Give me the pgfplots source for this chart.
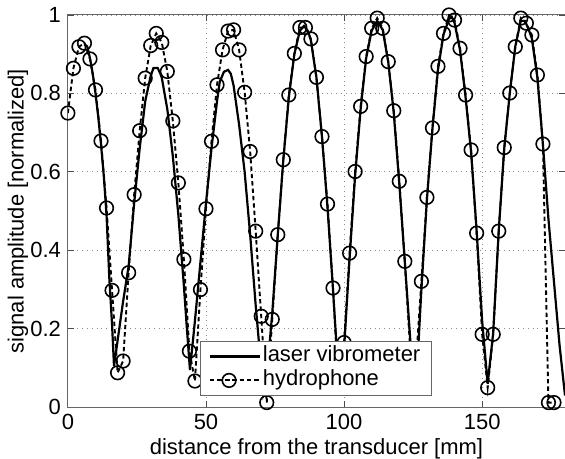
\documentclass[border=0pt]{standalone}
\usepackage{pgfplots}
\pgfplotsset{compat=1.18}
\usepackage{fontspec}
\setmainfont{Liberation Sans}
\begin{document}
\begin{tikzpicture}
\begin{axis}[
  scale only axis,
  width=249pt, height=196.5pt,
  xmin=0, xmax=180, ymin=0, ymax=1,
  xtick={0,50,100,150},
  ytick={0,0.2,0.4,0.6,0.8,1},
  yticklabels={0,0.2,0.4,0.6,0.8,1},
  /pgf/number format/assume math mode=true,
  tick label style={font=\fontsize{11}{13}\selectfont},
  label style={font=\fontsize{11}{13}\selectfont},
  tick align=inside,
  major tick length=3pt,
  tick style={black!70, line width=0.4pt},
  axis line style={black!60, line width=0.5pt},
  grid=major,
  major grid style={dotted, black!45, line width=0.4pt},
  xlabel={distance from the transducer [mm]},
  ylabel={signal amplitude [normalized]},
  xlabel style={at={(axis description cs:0.5,-0.107)}, anchor=center},
  ylabel style={at={(axis description cs:-0.1004,0.5)}, anchor=center},
  clip=true,
  legend style={at={(rel axis cs:0.265,0.028)}, anchor=south west,
    draw=black!60, fill=white, line width=0.4pt,
    font=\fontsize{11}{12}\selectfont,
    nodes={inner sep=0.9pt, text height=7.8pt, text depth=2.4pt},
    inner xsep=4.5pt, inner ysep=1.75pt, row sep=0pt},
  legend cell align=left,
  legend image code/.code={\draw[mark repeat=2,mark phase=2,#1] plot coordinates {(0pt,0pt) (9.5pt,0pt) (19pt,0pt)}; \path (0pt,0pt) -- (25pt,0pt);},
]
\addplot[black, line width=1.1pt, no markers] coordinates {
(6,0.925)(7,0.92)(8,0.89)(9,0.85)(10,0.80)(11,0.74)(12,0.67)(13,0.59)(14,0.49)(15,0.33)(16,0.21)(16.7,0.105)
(18,0.17)(20,0.27)(22,0.36)(24,0.52)(26,0.66)(28,0.78)(30,0.845)(31,0.865)(32.5,0.865)(33.5,0.85)
(34,0.84)(36,0.76)(38,0.64)(40,0.49)(42,0.31)(43,0.21)(44.2,0.095)
(46,0.22)(48,0.37)(50,0.52)(52,0.66)(54,0.78)(55,0.83)(56.5,0.855)(58,0.86)(59,0.85)(60,0.82)
(62,0.72)(64,0.60)(66,0.44)(68,0.26)(69,0.18)(70.7,0.04)(72.5,0.12)(74,0.24)(76,0.44)(78,0.63)
(80,0.79)(82,0.90)(84,0.96)(85.5,0.972)(87,0.958)(88,0.935)(90,0.84)(92,0.69)(94,0.51)(96,0.30)
(97.5,0.13)(98.7,0.03)(100,0.15)(102,0.38)(104,0.59)(106,0.76)(108,0.89)(110,0.96)(112,0.985)
(114,0.962)(116,0.88)(118,0.75)(120,0.57)(122,0.37)(124,0.17)(125.5,0.03)(127,0.17)(128,0.30)
(130,0.53)(132,0.71)(134,0.86)(136,0.95)(138,0.99)(139,0.995)(140,0.98)(142,0.91)(144,0.79)
(146,0.65)(148,0.45)(150,0.22)(152,0.06)(154,0.19)(156,0.45)(158,0.66)(160,0.80)(162,0.92)
(164,0.985)(165.5,0.985)(167,0.96)(168,0.94)(170,0.84)(172,0.67)(174,0.48)(176,0.32)(178,0.16)(180,0.03)
};
\addlegendentry{laser vibrometer}
\addplot[black, line width=0.95pt, dash pattern=on 2.2pt off 1.5pt, mark=o, mark size=3.4pt,
  mark options={solid, line width=0.8pt}] coordinates {
(0,0.750)(2,0.864)(4,0.919)(6,0.928)(8,0.888)(10,0.809)(12,0.679)(14,0.508)(16,0.298)(18,0.088)
(20,0.118)(22,0.343)(24,0.542)(26,0.705)(28,0.839)(30,0.922)(32,0.953)(34,0.930)(36,0.856)(38,0.730)
(40,0.572)(42,0.377)(44,0.143)(46,0.067)(48,0.300)(50,0.506)(52,0.678)(54,0.822)(56,0.911)(58,0.959)
(60,0.962)(62,0.911)(64,0.803)(66,0.652)(68,0.449)(70,0.232)(72,0.012)(74,0.224)(76,0.440)(78,0.631)
(80,0.796)(82,0.902)(84,0.968)(86,0.968)(88,0.939)(90,0.841)(92,0.690)(94,0.518)(96,0.304)(98,0.050)
(100,0.165)(102,0.393)(104,0.601)(106,0.767)(108,0.894)(110,0.966)(112,0.992)(114,0.966)(116,0.881)(118,0.756)
(120,0.576)(122,0.372)(124,0.140)(126,0.110)(128,0.321)(130,0.535)(132,0.712)(134,0.869)(136,0.953)(138,1.000)
(140,0.987)(142,0.915)(144,0.796)(146,0.656)(148,0.444)(150,0.186)(152,0.050)(154,0.186)(156,0.449)(158,0.662)
(160,0.801)(162,0.919)(164,0.992)(166,0.979)(168,0.949)(170,0.847)(172,0.671)(174,0.012)(176,0.012)
};
\addlegendentry{hydrophone}
\end{axis}
\pgfresetboundingbox
\path (current axis.south west) ++(-34pt,-25.5pt) coordinate (bbA);
\path (current axis.north east) ++(0pt,7.5pt) coordinate (bbB);
\useasboundingbox (bbA) rectangle (bbB);
\end{tikzpicture}
\end{document}
